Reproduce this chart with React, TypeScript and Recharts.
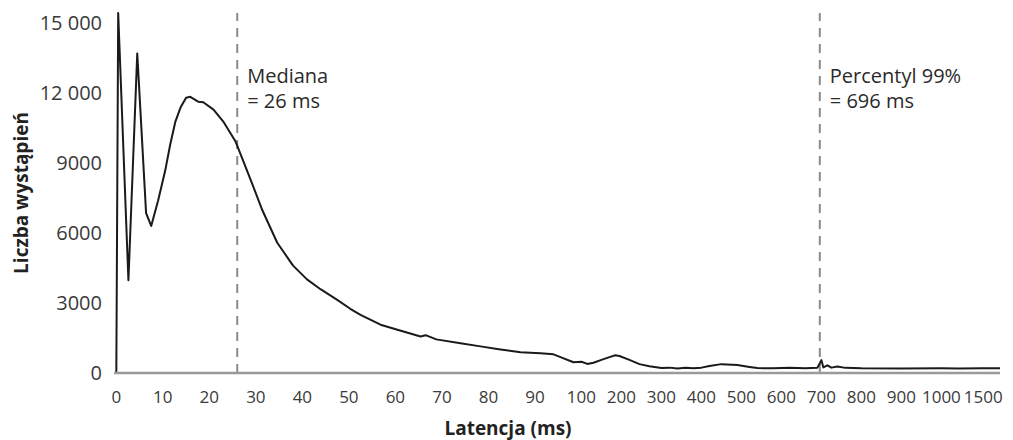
import { LineChart, Line, XAxis, YAxis, ReferenceLine, Label } from 'recharts';

// latency (ms) and number of occurrences
const latencyMs = [
  0, 0.4, 2.6, 4.5, 6.4, 7.5, 9, 10.5, 11.6, 12.7, 13.8, 15, 15.9, 17.6, 18.7, 20.9,
  23, 25.6, 27.3, 29.2, 31.4, 34.6, 38, 41, 43.9, 47.5, 50.3, 52.5, 56.8, 61, 65.4,
  66.5, 68.8, 74, 78.3, 82.6, 86.9, 91.2, 94, 95.5, 98.3, 100, 115, 130, 150, 170,
  185, 195, 220, 245, 270, 300, 320, 340, 360, 380, 400, 420, 450, 490, 520, 540,
  580, 620, 660, 690, 700, 705, 715, 725, 740, 760, 800, 900, 1000, 1200, 1500, 1700,
];
const counts = [
  0, 15420, 3970, 13690, 6850, 6300, 7400, 8660, 9800, 10770, 11370, 11790, 11830, 11620, 11600, 11280,
  10770, 9930, 9080, 8110, 6970, 5580, 4600, 4010, 3590, 3130, 2750, 2490, 2070, 1820, 1560,
  1620, 1440, 1270, 1140, 1010, 890, 845, 800, 680, 460, 480, 390, 440, 560, 680,
  760, 730, 560, 380, 290, 210, 230, 190, 220, 200, 230, 300, 380, 340, 260, 210,
  200, 220, 200, 230, 550, 240, 330, 230, 280, 220, 200, 190, 200, 190, 200, 200,
];

const xTickMs = [0, 10, 20, 30, 40, 50, 60, 70, 80, 90, 100, 200, 300, 400, 500, 600, 700, 800, 900, 1000, 1500];
const yTicks = [0, 3000, 6000, 9000, 12000, 15000];

const medianMs = 26;
const p99Ms = 696;

// the axis is broken: 10 ms per step up to 100, 100 ms per step up to 1000, then 500
function toPos(ms: number) {
  if (ms <= 100) return ms / 10;
  if (ms <= 1000) return 10 + ((ms - 100) / 100) * 0.86;
  return 17.74 + ((ms - 1000) / 500) * 0.9;
}

const data = latencyMs.map((ms, i) => ({ pos: toPos(ms), count: counts[i] }));
const xTicks = xTickMs.map(toPos);

function formatX(v: number) {
  const idx = xTicks.findIndex((t) => Math.abs(t - v) < 1e-6);
  return idx >= 0 ? String(xTickMs[idx]) : '';
}

function formatY(v: number) {
  if (v >= 10000) {
    const s = String(v);
    return s.slice(0, s.length - 3) + ' ' + s.slice(-3);
  }
  return String(v);
}

const FONT = '"Open Sans", "Noto Sans", sans-serif';

function NoteLabel(props: any, lines: string[]) {
  const { viewBox } = props;
  return (
    <text x={viewBox.x + 10} y={viewBox.y + 70} fill="#2a2a2a" fontSize={20} fontFamily={FONT}>
      <tspan x={viewBox.x + 10}>{lines[0]}</tspan>
      <tspan x={viewBox.x + 10} dy={25}>{lines[1]}</tspan>
    </text>
  );
}

export default function App() {
  return (
    <div style={{ width: 1005, height: 432 }}>
      <LineChart width={1005} height={432} data={data} margin={{ top: 5, right: 13, left: 0, bottom: 0 }}>
        <XAxis
          dataKey="pos"
          type="number"
          domain={[-0.05, 19]}
          ticks={xTicks}
          interval={0}
          tickFormatter={formatX}
          allowDataOverflow
          height={67}
          axisLine={{ stroke: '#9a9a9a', strokeWidth: 2.5 }}
          tickLine={false}
          tickSize={6}
          tickMargin={12}
          tick={{ fill: '#3a3a3a', fontSize: 17, fontFamily: FONT }}
        >
          <Label
            content={(p: any) => (
              <text
                x={p.viewBox.x + p.viewBox.width / 2 - 49}
                y={p.viewBox.y + 55}
                textAnchor="middle"
                dominantBaseline="central"
                fill="#222"
                fontSize={19}
                fontWeight="bold"
                fontFamily={FONT}
              >
                Latencja (ms)
              </text>
            )}
          />
        </XAxis>
        <YAxis
          type="number"
          domain={[0, 15420]}
          ticks={yTicks}
          interval={0}
          tickFormatter={formatY}
          width={106}
          axisLine={false}
          tickLine={false}
          tickSize={6}
          tickMargin={6}
          tick={{ fill: '#3a3a3a', fontSize: 20, fontFamily: FONT }}
        >
          <Label
            content={(p: any) => (
              <text
                x={13}
                y={p.viewBox.y + p.viewBox.height / 2}
                transform={`rotate(-90, 13, ${p.viewBox.y + p.viewBox.height / 2})`}
                textAnchor="middle"
                dominantBaseline="central"
                fill="#222"
                fontSize={19}
                fontWeight="bold"
                fontFamily={FONT}
              >
                Liczba wystąpień
              </text>
            )}
          />
        </YAxis>
        <ReferenceLine
          x={toPos(medianMs)}
          stroke="#8a8a8a"
          strokeWidth={2}
          strokeDasharray="9 7"
          label={(p: any) => NoteLabel(p, ['Mediana', '= 26 ms'])}
        />
        <ReferenceLine
          x={toPos(p99Ms)}
          stroke="#8a8a8a"
          strokeWidth={2}
          strokeDasharray="9 7"
          label={(p: any) => NoteLabel(p, ['Percentyl 99%', '= 696 ms'])}
        />
        <Line
          type="linear"
          dataKey="count"
          stroke="#1a1a1a"
          strokeWidth={2}
          strokeLinejoin="round"
          dot={false}
          isAnimationActive={false}
        />
      </LineChart>
    </div>
  );
}
